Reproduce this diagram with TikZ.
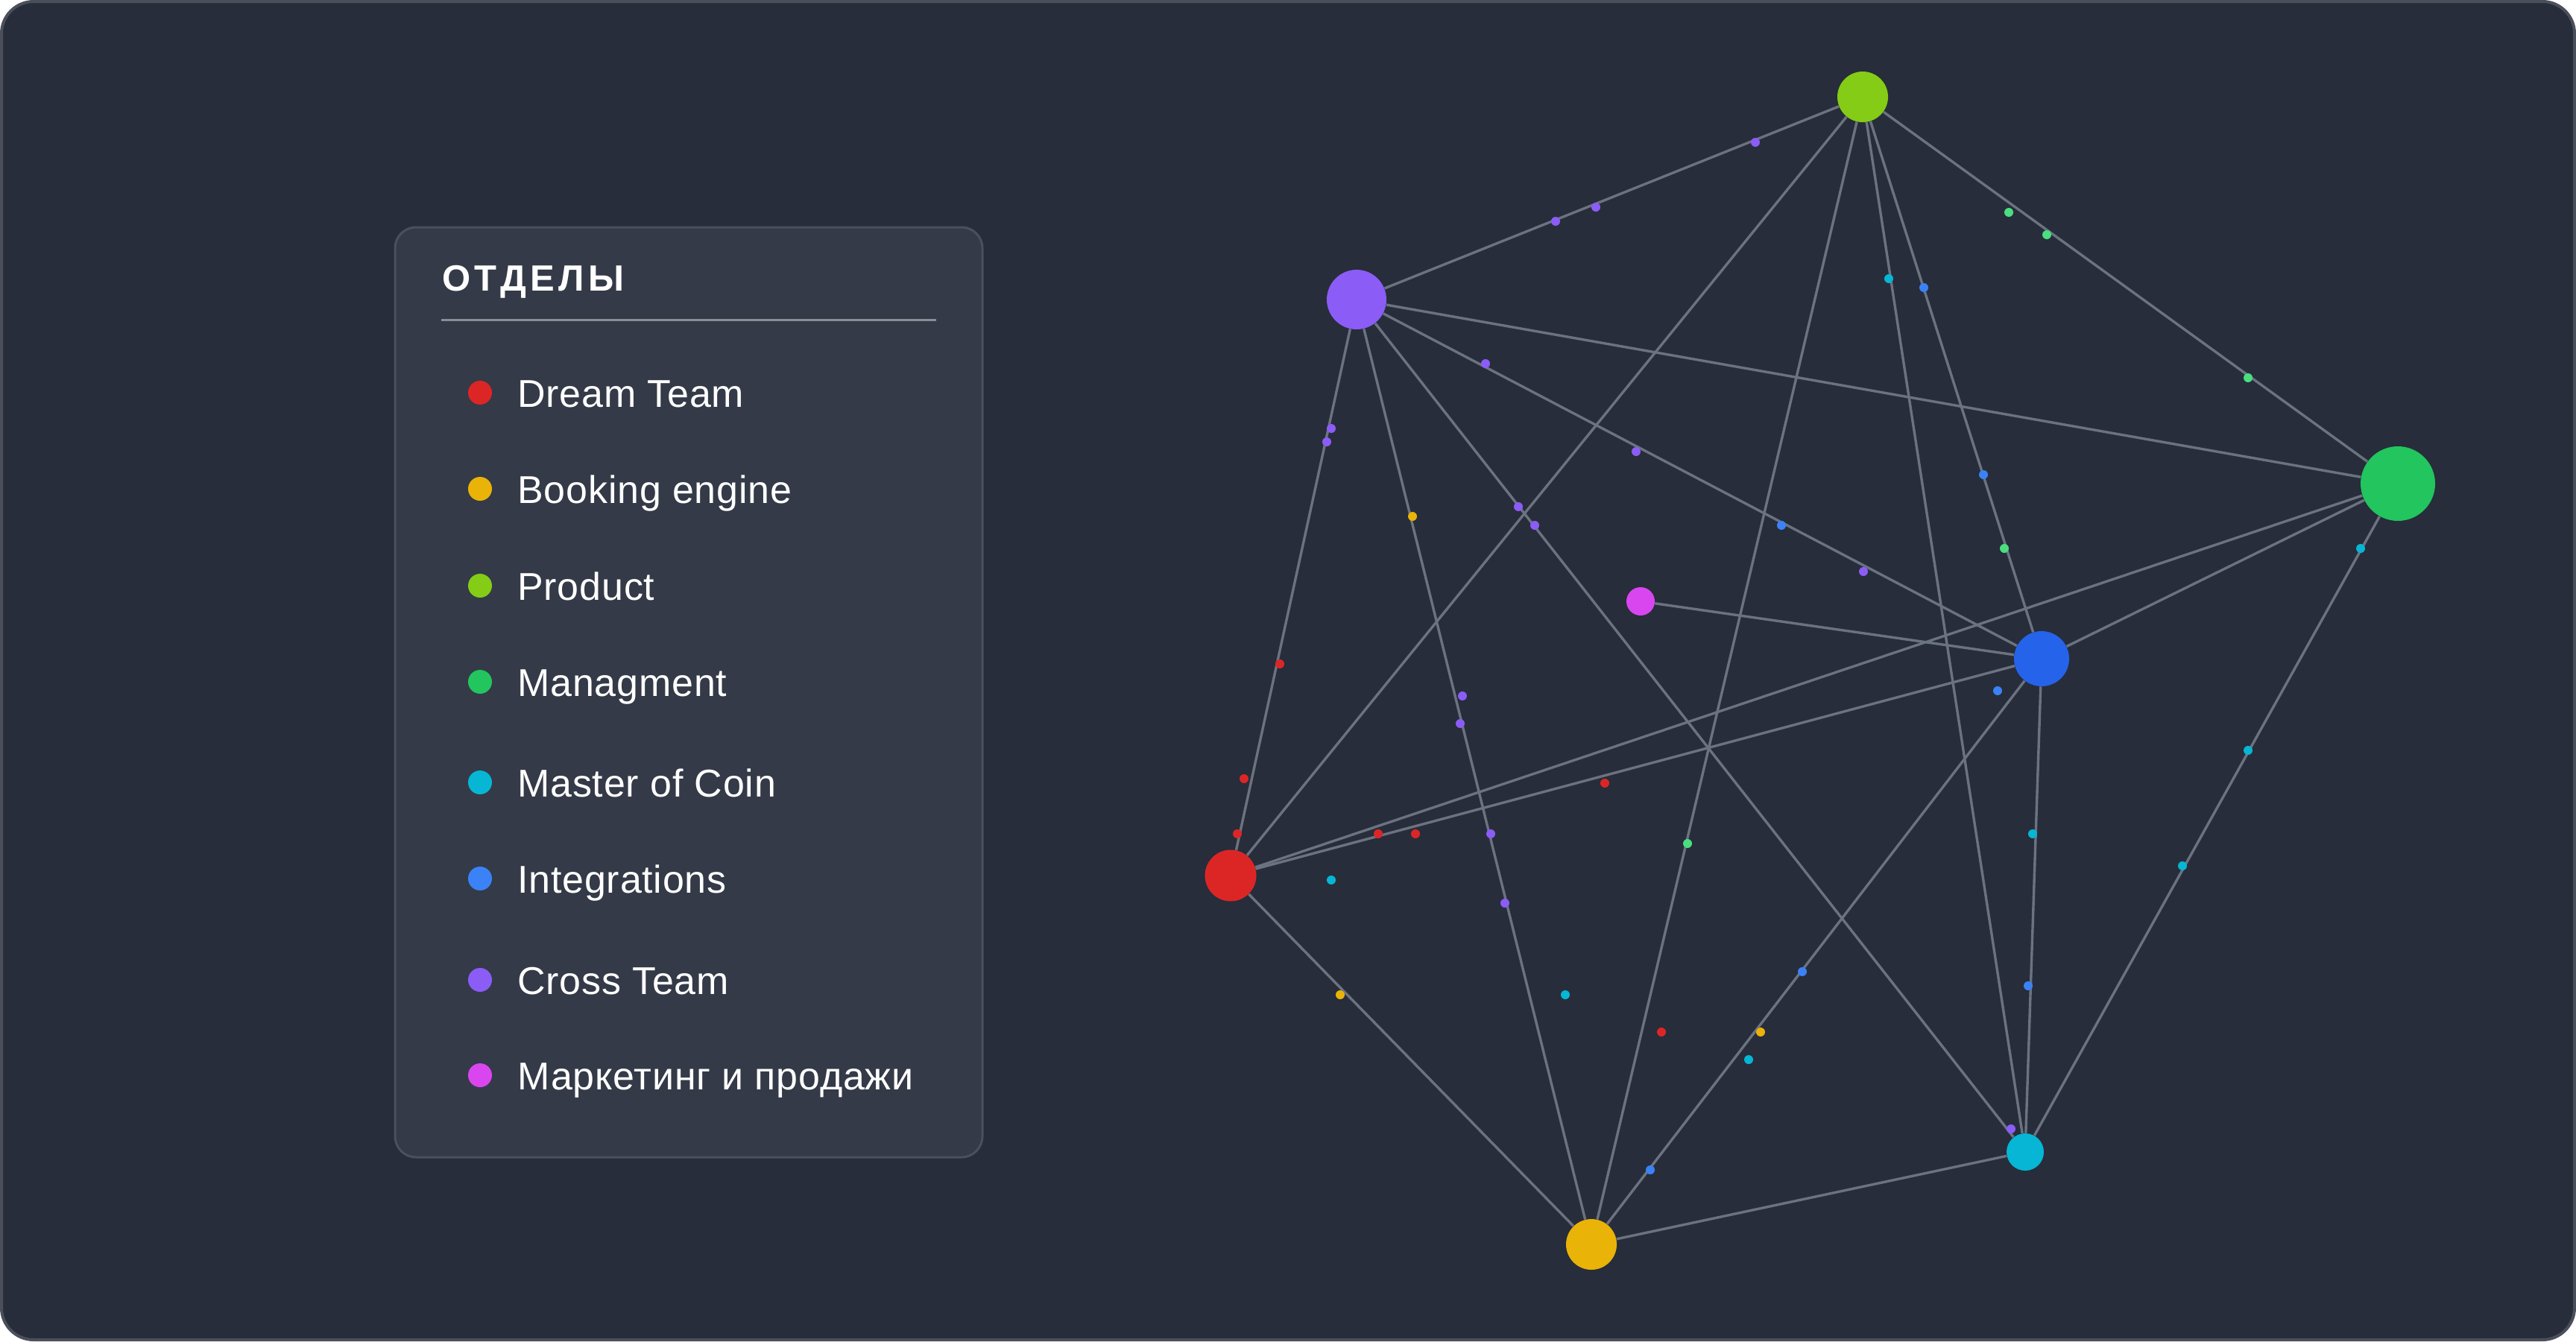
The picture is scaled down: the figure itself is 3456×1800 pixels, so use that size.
\documentclass[tikz,border=0pt]{standalone}
\usepackage{fontspec}
\setmainfont{Liberation Sans}
\definecolor{bg}{HTML}{272D3A}
\definecolor{frame}{HTML}{4B4F5A}
\definecolor{panel}{HTML}{343A47}
\definecolor{panelline}{HTML}{4A505E}
\definecolor{rulegray}{HTML}{8A8E96}
\definecolor{edgegray}{HTML}{6B7280}
\definecolor{dream}{HTML}{DC2626}
\definecolor{book}{HTML}{EAB308}
\definecolor{prod}{HTML}{84CC16}
\definecolor{mgmt}{HTML}{22C55E}
\definecolor{mgmtdot}{HTML}{4ADE80}
\definecolor{coin}{HTML}{06B6D4}
\definecolor{integ}{HTML}{2563EB}
\definecolor{integdot}{HTML}{3B82F6}
\definecolor{cross}{HTML}{8B5CF6}
\definecolor{mkt}{HTML}{D946EF}
\begin{document}
\begin{tikzpicture}[x=0.5pt, y=-0.5pt,
  dept/.style={circle, inner sep=0pt, minimum size=#1},
  link/.style={draw=edgegray, line width=1.7pt},
  keydot/.style={circle, inner sep=0pt, minimum size=16pt},
  keytext/.style={anchor=base west, text=white,
    font=\fontsize{26}{30}\selectfont\addfontfeatures{LetterSpace=1.5}}]
\useasboundingbox (0,0) rectangle (3456,1800);
\draw[fill=bg, draw=frame, line width=2pt, rounded corners=21.5pt] (2,2) rectangle (3454,1798);
% legend
\draw[fill=panel, draw=panelline, line width=1.5pt, rounded corners=14pt] (530,305) rectangle (1318,1553);
\node[anchor=base west, inner sep=0pt, text=white,
  font=\fontsize{24.5}{28}\selectfont\bfseries\addfontfeatures{LetterSpace=11}] (title) at (593,390) {ОТДЕЛЫ};
\draw[rulegray, line width=1.5pt] (592,429) -- (1256,429);
\foreach \y/\c/\t [count=\i] in {527/dream/Dream Team, 656/book/Booking engine, 786/prod/Product,
    915/mgmt/Managment, 1050/coin/Master of Coin, 1179/integdot/Integrations,
    1315/cross/Cross Team, 1443/mkt/Маркетинг и продажи}{
  \node[keydot, fill=\c] (k\i) at (644,\y) {};
  \node[keytext, inner sep=0pt] (t\i) at (694,\y+19) {\t};
}
% departments
\node[dept=34pt, fill=prod] (prod) at (2499,130) {};
\node[dept=40pt, fill=cross] (cross) at (1820,402) {};
\node[dept=19pt, fill=mkt] (mkt) at (2201,807) {};
\node[dept=34.5pt, fill=dream] (dream) at (1651,1175) {};
\node[dept=34pt, fill=book] (book) at (2135,1670) {};
\node[dept=37pt, fill=integ] (integ) at (2739,884) {};
\node[dept=50pt, fill=mgmt] (mgmt) at (3217,649) {};
\node[dept=25pt, fill=coin] (coin) at (2717,1546) {};
\foreach \a/\b in {prod/cross, prod/dream, prod/book, prod/coin, prod/integ, prod/mgmt,
    cross/mgmt, cross/integ, cross/coin, cross/book, cross/dream, mkt/integ,
    dream/mgmt, dream/integ, dream/book, integ/mgmt, integ/coin, integ/book,
    mgmt/coin, coin/book}
  \draw[link] (\a) -- (\b);
% messages
\foreach \x/\y/\c in {2355/191/cross, 2141/278/cross, 2087/297/cross, 1993/488/cross,
    1786/575/cross, 1780/593/cross, 2195/606/cross, 2037/680/cross, 2059/705/cross,
    2500/767/cross, 1962/934/cross, 1959/971/cross, 2000/1119/cross, 2019/1212/cross,
    2698/1515/cross,
    2695/285/mgmtdot, 2746/315/mgmtdot, 3016/507/mgmtdot, 2689/736/mgmtdot, 2264/1132/mgmtdot,
    2534/374/coin, 1786/1181/coin, 2100/1335/coin, 2346/1422/coin, 3167/736/coin,
    3016/1007/coin, 2727/1119/coin, 2928/1162/coin,
    2581/386/integdot, 2661/637/integdot, 2390/705/integdot, 2680/927/integdot,
    2418/1304/integdot, 2214/1570/integdot, 2721/1323/integdot,
    1895/693/book, 1798/1335/book, 2362/1385/book,
    1717/891/dream, 1669/1045/dream, 1660/1119/dream, 1849/1119/dream, 1899/1119/dream,
    2153/1051/dream, 2229/1385/dream}
  \fill[\c] (\x,\y) circle (3pt);
\end{tikzpicture}
\end{document}
